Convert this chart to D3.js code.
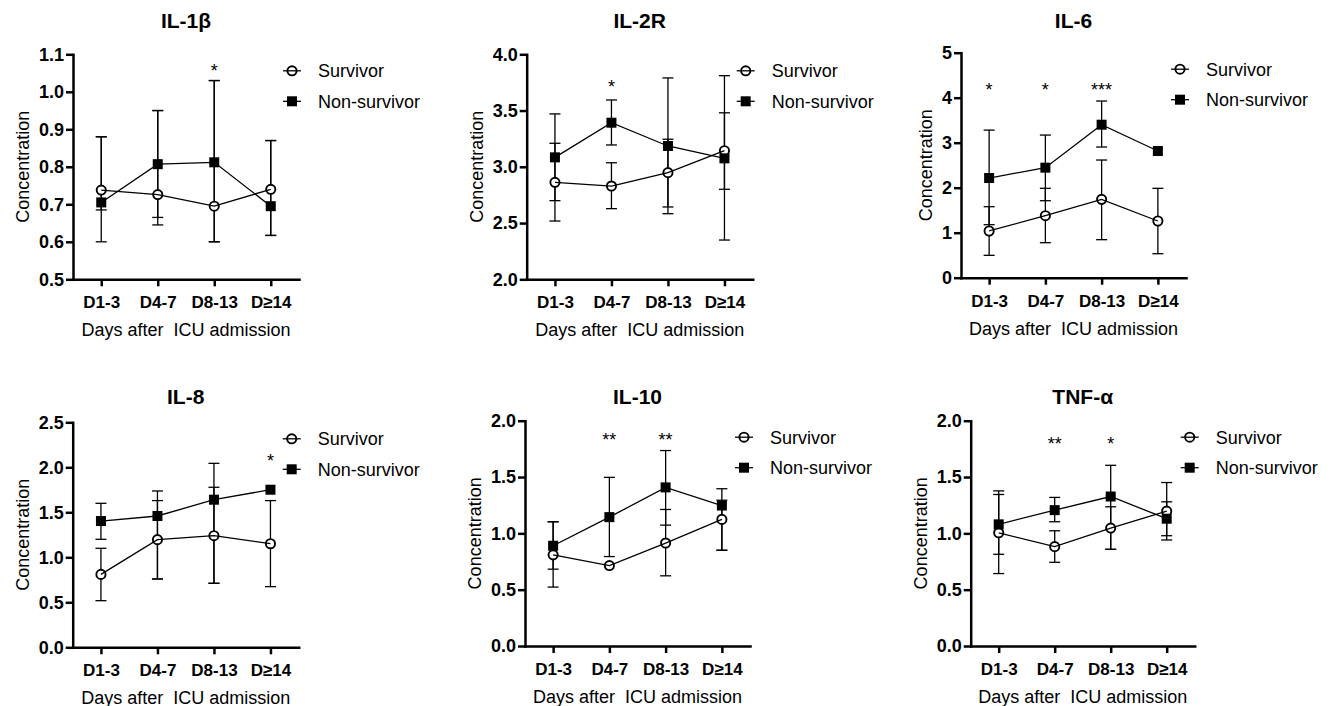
<!DOCTYPE html>
<html>
<head>
<meta charset="utf-8">
<script src="https://cdn.jsdelivr.net/npm/d3@7"></script>
<style>
  body { margin: 0; background: #fff; }
  svg { display: block; font-family: "Liberation Sans", Arial, sans-serif; }
</style>
</head>
<body>
<div id="chart"></div>
<script>
// time points after ICU admission
var categories = ["D1-3", "D4-7", "D8-13", "D≥14"];
var seriesNames = ["Survivor", "Non-survivor"];

// values: centre, then [low, high] whiskers (null = no bar)
var il1bSurv = [0.738, 0.726, 0.695, 0.740];
var il1bSurvErr = [[0.60, 0.88], [0.645, 0.95], [0.60, 1.03], [0.617, 0.87]];
var il1bNon = [0.705, 0.807, 0.812, 0.695];
var il1bNonErr = [[0.685, 0.88], [0.665, 0.95], [0.60, 1.03], [0.617, 0.87]];
var il1bStars = ["", "", "*", ""];

var il2rSurv = [2.862, 2.829, 2.948, 3.143];
var il2rSurvErr = [[2.518, 3.209], [2.628, 3.036], [2.643, 3.245], [2.349, 3.81]];
var il2rNon = [3.084, 3.392, 3.185, 3.075];
var il2rNonErr = [[2.699, 3.47], [3.194, 3.594], [2.583, 3.79], [2.80, 3.48]];
var il2rStars = ["", "*", "", ""];

var il6Surv = [1.038, 1.378, 1.741, 1.26];
var il6SurvErr = [[0.497, 1.578], [0.778, 1.986], [0.845, 2.615], [0.533, 1.986]];
var il6Non = [2.215, 2.445, 3.40, 2.815];
var il6NonErr = [[1.178, 3.28], [1.711, 3.17], [2.904, 3.926], null];
var il6Stars = ["*", "*", "***", ""];

var il8Surv = [0.81, 1.196, 1.24, 1.151];
var il8SurvErr = [[0.518, 1.10], [0.759, 1.63], [0.711, 1.778], [0.674, 1.63]];
var il8Non = [1.403, 1.459, 1.64, 1.751];
var il8NonErr = [[1.20, 1.60], [0.759, 1.737], [0.711, 2.044], null];
var il8Stars = ["", "", "", "*"];

var il10Surv = [0.809, 0.714, 0.914, 1.124];
var il10SurvErr = [[0.523, 1.103], null, [0.623, 1.212], [0.85, 1.294]];
var il10Non = [0.89, 1.144, 1.408, 1.247];
var il10NonErr = [[0.682, 1.103], [0.794, 1.497], [1.073, 1.735], [0.85, 1.396]];
var il10Stars = ["", "**", "**", ""];

var tnfSurv = [1.005, 0.882, 1.047, 1.197];
var tnfSurvErr = [[0.643, 1.377], [0.743, 1.023], [0.858, 1.236], [0.979, 1.451]];
var tnfNon = [1.08, 1.206, 1.327, 1.13];
var tnfNonErr = [[0.814, 1.345], [1.103, 1.319], [0.858, 1.604], [0.941, 1.28]];
var tnfStars = ["", "**", "*", ""];

// axis settings
var titles = ["IL-1β", "IL-2R", "IL-6", "IL-8", "IL-10", "TNF-α"];
var yDomains = [[0.5, 1.1], [2, 4], [0, 5], [0, 2.5], [0, 2], [0, 2]];
var yTicks = [
  [0.5, 0.6, 0.7, 0.8, 0.9, 1.0, 1.1],
  [2.0, 2.5, 3.0, 3.5, 4.0],
  [0, 1, 2, 3, 4, 5],
  [0.0, 0.5, 1.0, 1.5, 2.0, 2.5],
  [0.0, 0.5, 1.0, 1.5, 2.0],
  [0.0, 0.5, 1.0, 1.5, 2.0]
];
var yFormats = [".1f", ".1f", "d", ".1f", ".1f", ".1f"];
var starLevels = [1.067, 3.742, 4.26, 2.118, 1.863, 1.828];

var panels = [
  {surv: il1bSurv, survErr: il1bSurvErr, non: il1bNon, nonErr: il1bNonErr, stars: il1bStars},
  {surv: il2rSurv, survErr: il2rSurvErr, non: il2rNon, nonErr: il2rNonErr, stars: il2rStars},
  {surv: il6Surv, survErr: il6SurvErr, non: il6Non, nonErr: il6NonErr, stars: il6Stars},
  {surv: il8Surv, survErr: il8SurvErr, non: il8Non, nonErr: il8NonErr, stars: il8Stars},
  {surv: il10Surv, survErr: il10SurvErr, non: il10Non, nonErr: il10NonErr, stars: il10Stars},
  {surv: tnfSurv, survErr: tnfSurvErr, non: tnfNon, nonErr: tnfNonErr, stars: tnfStars}
];

// where each plot frame sits on the page
var frames = [
  {x0: 73,    top: 54.3,  bottom: 279.3, w: 226, titleY: 28},
  {x0: 526.7, top: 54.3,  bottom: 279.3, w: 226, titleY: 28},
  {x0: 961,   top: 52.7,  bottom: 277.7, w: 225, titleY: 28},
  {x0: 72.7,  top: 422.3, bottom: 647.3, w: 226, titleY: 404},
  {x0: 525,   top: 420.7, bottom: 646,   w: 225, titleY: 404},
  {x0: 970.7, top: 420.7, bottom: 646,   w: 224, titleY: 404}
];

var svg = d3.select("#chart").append("svg")
  .attr("width", 1333).attr("height", 706);

function drawMarker(sel, series, cx, cy){
  if(series === 0){
    sel.append("circle").attr("cx", cx).attr("cy", cy).attr("r", 4.6)
      .style("fill", "#fff").style("stroke", "#000").style("stroke-width", 1.9);
  } else {
    sel.append("rect").attr("x", cx - 5).attr("y", cy - 5)
      .attr("width", 10).attr("height", 10).style("fill", "#000");
  }
}

panels.forEach(function(p, k){
  var f = frames[k];
  var g = svg.append("g");

  var x = d3.scalePoint().domain(categories).range([f.x0, f.x0 + f.w]).padding(0.5);
  var y = d3.scaleLinear().domain(yDomains[k]).range([f.bottom, f.top]);

  // y axis
  var ya = g.append("g").attr("transform", "translate(" + f.x0 + ",0)")
    .call(d3.axisLeft(y).tickValues(yTicks[k]).tickFormat(d3.format(yFormats[k]))
      .tickSize(7).tickPadding(2).tickSizeOuter(0));
  // x axis
  var xa = g.append("g").attr("transform", "translate(0," + f.bottom + ")")
    .call(d3.axisBottom(x).tickSize(7).tickPadding(10).tickSizeOuter(0));

  [ya, xa].forEach(function(a){
    a.select(".domain").style("stroke", "#000").style("stroke-width", 2.5).style("stroke-linecap", "square");
    a.selectAll(".tick line").style("stroke", "#000").style("stroke-width", 2.5);
    a.selectAll(".tick text").style("font-size", "17px").style("font-weight", "bold")
      .style("fill", "#000").style("font-family", "'Liberation Sans', Arial, sans-serif");
  });
  ya.selectAll(".tick text").style("font-size", "18px");

  // axis titles
  var minLeft = d3.min(ya.selectAll(".tick text").nodes(), function(n){ return n.getBBox().x; });
  g.append("text")
    .attr("transform", "translate(" + (f.x0 + minLeft - 10) + "," + ((f.top + f.bottom) / 2) + ") rotate(-90)")
    .attr("text-anchor", "middle").style("font-size", "18px").text("Concentration");
  g.append("text")
    .attr("x", f.x0 + f.w / 2).attr("y", f.bottom + 57)
    .attr("text-anchor", "middle").style("font-size", "18px").style("white-space", "pre")
    .text("Days after  ICU admission");
  g.append("text")
    .attr("x", f.x0 + f.w / 2).attr("y", f.titleY)
    .attr("text-anchor", "middle").style("font-size", "21px").style("font-weight", "bold")
    .text(titles[k]);

  var series = [[p.surv, p.survErr], [p.non, p.nonErr]];

  // error bars
  series.forEach(function(s){
    s[1].forEach(function(e, i){
      if(!e) return;
      var cx = x(categories[i]);
      g.append("line").attr("x1", cx).attr("x2", cx).attr("y1", y(e[0])).attr("y2", y(e[1]))
        .style("stroke", "#000").style("stroke-width", 1.3);
      e.forEach(function(v){
        g.append("line").attr("x1", cx - 5.5).attr("x2", cx + 5.5).attr("y1", y(v)).attr("y2", y(v))
          .style("stroke", "#000").style("stroke-width", 1.3);
      });
    });
  });

  // markers
  series.forEach(function(s, si){
    s[0].forEach(function(v, i){ drawMarker(g, si, x(categories[i]), y(v)); });
  });

  // connecting lines
  var line = d3.line().x(function(d, i){ return x(categories[i]); }).y(function(d){ return y(d); });
  series.forEach(function(s){
    g.append("path").attr("d", line(s[0]))
      .style("fill", "none").style("stroke", "#000").style("stroke-width", 1.3);
  });

  // significance marks
  p.stars.forEach(function(s, i){
    if(!s) return;
    g.append("text").attr("x", x(categories[i])).attr("y", y(starLevels[k]) + 10)
      .attr("text-anchor", "middle").style("font-size", "18px").text(s);
  });

  // legend
  seriesNames.forEach(function(name, si){
    var ly = f.top + 16.5 + si * 30.5;
    g.append("line").attr("x1", f.x0 + 210).attr("x2", f.x0 + 228).attr("y1", ly).attr("y2", ly)
      .style("stroke", "#000").style("stroke-width", 1.3);
    drawMarker(g, si, f.x0 + 219, ly);
    if(si === 0){
      g.append("line").attr("x1", f.x0 + 214.5).attr("x2", f.x0 + 223.5).attr("y1", ly).attr("y2", ly)
        .style("stroke", "#000").style("stroke-width", 1.3);
    }
    g.append("text").attr("x", f.x0 + 245).attr("y", ly).attr("dy", "0.35em")
      .style("font-size", "18px").text(name);
  });
});
</script>
</body>
</html>
